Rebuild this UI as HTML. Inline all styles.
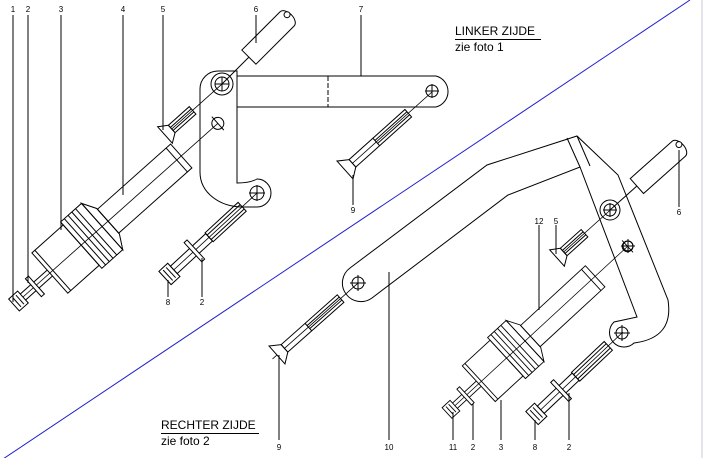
<!DOCTYPE html>
<html><head><style>
html,body{margin:0;padding:0;background:#fff;}
svg{display:block;}
text{font-family:"Liberation Sans",sans-serif;}
</style></head><body>
<svg width="704" height="458" viewBox="0 0 704 458" xmlns="http://www.w3.org/2000/svg">
<defs>
<g id="chuck" fill="none" stroke="#000" stroke-width="1">
  <line x1="0" y1="0" x2="273" y2="0" stroke-width="0.8"/>
  <rect x="0" y="-8" width="12" height="16" fill="#fff"/>
  <line x1="4" y1="-6" x2="4" y2="6"/><line x1="8" y1="-6" x2="8" y2="6"/>
  <line x1="12" y1="-4" x2="48" y2="-4"/><line x1="12" y1="4" x2="48" y2="4"/>
  <rect x="26" y="-12" width="4" height="24" fill="#fff"/>
  <rect x="48" y="-27" width="42" height="54"/>
  <line x1="52" y1="-27" x2="52" y2="27"/>
  <rect x="90" y="-31" width="28" height="62"/>
  <line x1="95" y1="-31" x2="95" y2="31"/><line x1="100" y1="-31" x2="100" y2="31"/>
  <line x1="105" y1="-31" x2="105" y2="31"/><line x1="110" y1="-31" x2="110" y2="31"/>
  <polygon points="118,-31 126,-17 126,17 118,31"/>
  <rect x="126" y="-16" width="98" height="32"/>
  <line x1="218" y1="-16" x2="218" y2="16"/>
  <circle cx="273" cy="0" r="6"/><line x1="273" y1="-9" x2="273" y2="9"/>
</g>
<g id="screw8" fill="none" stroke="#000" stroke-width="1">
  <line x1="0" y1="0" x2="125" y2="0" stroke-width="0.8"/>
  <rect x="0" y="-9" width="12" height="18" fill="#fff"/>
  <line x1="4" y1="-7" x2="4" y2="7"/><line x1="8" y1="-7" x2="8" y2="7"/>
  <rect x="12" y="-5" width="48" height="10"/>
  <rect x="38" y="-13" width="4" height="26" fill="#fff"/>
  <rect x="60" y="-6" width="45" height="12"/>
  <line x1="60" y1="-3" x2="105" y2="-3"/><line x1="60" y1="3" x2="105" y2="3"/>
</g>
<g id="screw9" fill="none" stroke="#000" stroke-width="1">
  <polygon points="0,-12 0,12 10,5 10,-5" fill="#fff"/>
  <rect x="10" y="-5" width="75" height="10"/>
  <line x1="42" y1="-5" x2="42" y2="5"/>
  <line x1="42" y1="-2" x2="85" y2="-2"/><line x1="42" y1="2" x2="85" y2="2"/>
</g>
<g id="screw5" fill="none" stroke="#000" stroke-width="1">
  <polygon points="0,-11 0,11 9,5 9,-5" fill="#fff"/>
  <rect x="9" y="-5" width="28" height="10"/>
  <line x1="9" y1="-2" x2="37" y2="-2"/><line x1="9" y1="2" x2="37" y2="2"/>
</g>
</defs>

<line x1="690" y1="0" x2="0" y2="461" stroke="#2020d0" stroke-width="1"/>
<line x1="702" y1="0" x2="702" y2="458" stroke="#c8c8d8" stroke-width="1"/>

<g fill="none" stroke="#000" stroke-width="1">
<!-- left bracket -->
<path d="M237,76 H436 A16,16 0 0 1 436,107 H237"/>
<line x1="328" y1="76" x2="328" y2="107" stroke-dasharray="5,2"/>
<path d="M237,71 H218 A18,18 0 0 0 200,89 V172 C200,193 220,207 243,207 H257 A14,14 0 0 0 257,179 Q250,183 237,183 Z"/>
<circle cx="222" cy="84" r="11"/><circle cx="222" cy="84" r="7"/>
<line x1="215" y1="84" x2="229" y2="84"/><line x1="222" y1="77" x2="222" y2="91"/>
<circle cx="257" cy="193" r="7"/><line x1="249" y1="193" x2="265" y2="193"/><line x1="257" y1="185" x2="257" y2="201"/>
<circle cx="432" cy="91" r="6"/><line x1="425" y1="91" x2="439" y2="91"/><line x1="432" y1="84" x2="432" y2="98"/>

<!-- right bracket -->
<path d="M350,268 L487,165 L577,136 L618,175 L668,300 Q674,338 634,343 A13,13 0 0 1 614,322 L637,317 L580,167 L508,195 L372,298 A18,18 0 0 1 350,268 Z"/>
<line x1="580" y1="167" x2="567" y2="138"/><line x1="577" y1="136" x2="590" y2="166"/>
<circle cx="610" cy="210" r="10"/><circle cx="610" cy="210" r="6"/>
<line x1="603" y1="210" x2="617" y2="210"/><line x1="610" y1="203" x2="610" y2="217"/>
<circle cx="628" cy="246" r="5"/><line x1="621" y1="246" x2="635" y2="246"/><line x1="628" y1="239" x2="628" y2="253"/>
<circle cx="622" cy="333" r="6"/><line x1="614" y1="333" x2="630" y2="333"/><line x1="622" y1="325" x2="622" y2="341"/>
<circle cx="358" cy="283" r="6"/><line x1="350" y1="283" x2="366" y2="283"/><line x1="358" y1="275" x2="358" y2="291"/>
</g>

<use href="#chuck" transform="translate(14,305) rotate(-41.7)"/>
<use href="#chuck" transform="translate(447,413) rotate(-42.7) scale(0.9)"/>
<use href="#screw8" transform="translate(165,278) rotate(-42.7)"/>
<use href="#screw8" transform="translate(532,418) rotate(-43.4)"/>
<g transform="translate(345,170) rotate(-41.9)"><line x1="0" y1="0" x2="117" y2="0" stroke="#000" stroke-width="0.8"/><use href="#screw9"/></g>
<g transform="translate(277,355) rotate(-41.6)"><line x1="-6" y1="0" x2="108" y2="0" stroke="#000" stroke-width="0.8"/><use href="#screw9"/></g>
<g transform="translate(165,135) rotate(-41.8)"><line x1="0" y1="0" x2="76" y2="0" stroke="#000" stroke-width="0.8"/><use href="#screw5"/></g>
<g transform="translate(557,258) rotate(-42)"><line x1="0" y1="0" x2="71" y2="0" stroke="#000" stroke-width="0.8"/><use href="#screw5"/></g>

<g fill="#fff" stroke="#000" stroke-width="1">
<g transform="translate(222,84) rotate(-45)"><line x1="0" y1="0" x2="38" y2="0"/><path d="M38,-10 H92 A6,10 0 0 1 92,10 H38 Z"/><circle cx="95" cy="-3" r="3"/></g>
<g transform="translate(610,210) rotate(-41.7)"><line x1="0" y1="0" x2="36" y2="0"/><path d="M36,-10 H92 A6,10 0 0 1 92,10 H36 Z"/><circle cx="95" cy="-3" r="3"/></g>
</g>

<!-- leaders -->
<g stroke="#000" stroke-width="1">
<line x1="13" y1="15" x2="13" y2="302"/>
<line x1="28" y1="15" x2="28" y2="283"/>
<line x1="61" y1="15" x2="61" y2="230"/>
<line x1="123" y1="15" x2="123" y2="195"/>
<line x1="163" y1="15" x2="163" y2="130"/>
<line x1="256" y1="15" x2="256" y2="43"/>
<line x1="361" y1="15" x2="361" y2="76"/>
<line x1="168" y1="280" x2="168" y2="297"/>
<line x1="202" y1="258" x2="202" y2="297"/>
<line x1="353" y1="175" x2="353" y2="205"/>
<line x1="539" y1="225" x2="539" y2="310"/>
<line x1="556" y1="225" x2="556" y2="254"/>
<line x1="679" y1="150" x2="679" y2="207"/>
<line x1="279" y1="355" x2="279" y2="440"/>
<line x1="389" y1="272" x2="389" y2="440"/>
<line x1="453" y1="412" x2="453" y2="440"/>
<line x1="473" y1="404" x2="473" y2="440"/>
<line x1="501" y1="400" x2="501" y2="440"/>
<line x1="535" y1="420" x2="535" y2="440"/>
<line x1="569" y1="393" x2="569" y2="440"/>
</g>

<g font-size="8" text-anchor="middle" fill="#000">
<text x="13" y="12">1</text><text x="28" y="12">2</text><text x="61" y="12">3</text>
<text x="123" y="12">4</text><text x="163" y="12">5</text><text x="256" y="12">6</text>
<text x="361" y="12">7</text>
<text x="168" y="305">8</text><text x="202" y="305">2</text>
<text x="353" y="213">9</text>
<text x="539" y="224">12</text><text x="556" y="224">5</text><text x="679" y="215">6</text>
<text x="279" y="450">9</text><text x="389" y="450">10</text><text x="453" y="450">11</text>
<text x="473" y="450">2</text><text x="501" y="450">3</text><text x="535" y="450">8</text><text x="569" y="450">2</text>
</g>

<g font-size="12" fill="#000">
<text x="455" y="35">LINKER ZIJDE</text>
<line x1="455" y1="39.5" x2="541" y2="39.5" stroke="#000"/>
<text x="455" y="51">zie foto 1</text>
<text x="161" y="429">RECHTER ZIJDE</text>
<line x1="161" y1="433.5" x2="259" y2="433.5" stroke="#000"/>
<text x="161" y="445">zie foto 2</text>
</g>
</svg>
</body></html>
